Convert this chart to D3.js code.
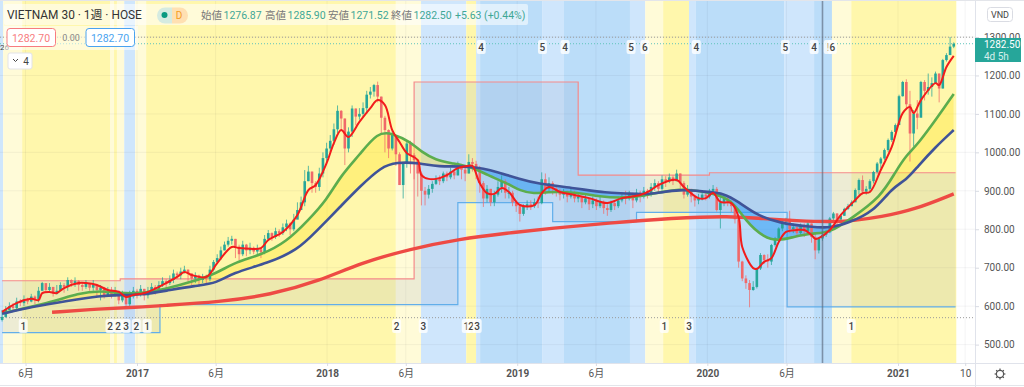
<!DOCTYPE html>
<html><head><meta charset="utf-8">
<script src="https://cdn.jsdelivr.net/npm/d3@7/dist/d3.min.js"></script>
<style>html,body{margin:0;padding:0;background:#fff;overflow:hidden}svg{display:block}text{font-family:Roboto,"Noto Sans CJK JP",sans-serif}</style>
</head><body><svg id="c" width="1024" height="387"></svg>
<script>
const closes=[572,590,600,595,612,608,618,612,625,618,
640,660,642,650,632,640,655,650,668,660,
665,655,650,660,648,655,642,648,625,640,
630,640,615,628,605,625,640,632,645,628,
640,650,645,655,665,660,668,685,680,690,
695,685,672,680,668,675,670,695,715,725,
745,760,770,775,755,735,760,745,752,742,
748,740,775,790,780,795,790,805,815,800,
825,850,870,925,950,920,910,945,985,1010,
1030,1060,1108,1088,1010,1054,1114,1093,1100,1115,
1150,1158,1175,1145,1090,1058,1010,1045,995,915,
971,1023,993,980,945,900,890,905,918,930,
925,945,935,950,940,965,955,945,975,970,
955,920,880,905,870,890,910,925,895,895,
870,860,840,860,865,860,870,868,930,905,
920,905,900,890,895,885,895,880,885,870,
880,865,875,860,870,855,850,868,860,875,
885,880,890,875,895,885,900,890,910,920,
905,930,925,935,925,945,920,890,905,885,
875,880,890,885,900,905,850,870,880,870,
860,826,716,672,660,642,650,698,733,720,
716,759,776,802,820,827,800,805,790,810,
795,815,780,745,776,786,792,828,841,825,
835,853,860,870,902,928,898,905,925,949,
971,984,1006,1032,1053,1071,1146,1183,1125,1049,
1101,1090,1183,1160,1170,1180,1205,1166,1240,1253,
1275,1282.5];
const highs=[590,600,610,608,622,618,628,622,632,628,
650,663,655,660,650,655,662,660,675,670,
675,668,662,668,660,668,658,655,650,650,
650,650,640,640,630,640,650,645,655,645,
650,660,655,665,675,670,680,695,690,700,
705,695,685,688,682,684,682,705,720,735,
755,768,780,783,775,760,770,762,765,755,
760,752,785,798,792,804,800,815,825,818,
840,870,885,954,965,950,925,960,1000,1025,
1045,1075,1122,1110,1088,1065,1122,1114,1115,1130,
1160,1170,1178,1184,1145,1095,1060,1055,1045,1000,
975,1030,1030,998,982,950,910,915,925,940,
940,950,950,960,955,976,970,960,995,985,
978,965,925,915,905,900,925,940,930,910,
900,875,865,865,875,875,880,885,948,945,
935,925,915,905,905,900,905,900,895,885,
890,880,885,880,885,875,865,875,875,885,
895,900,900,895,905,900,910,905,920,930,
925,940,938,945,940,955,945,925,915,905,
890,892,895,895,905,915,910,885,890,885,
875,860,826,718,680,668,665,700,738,735,
735,762,780,805,825,830,848,815,810,815,
815,820,815,790,780,792,798,832,845,842,
840,856,866,875,906,932,940,912,930,952,
975,988,1010,1036,1057,1075,1150,1186,1190,1160,
1110,1136,1186,1188,1205,1195,1210,1205,1243,1258,
1300,1286];
const lows=[560,570,590,585,590,600,600,605,610,605,
610,640,635,635,625,630,645,635,640,650,
650,640,640,645,640,640,625,615,620,625,
620,625,605,610,595,600,620,620,625,615,
620,635,630,640,650,645,655,660,670,670,
685,665,655,660,650,660,655,665,690,710,
720,745,755,760,725,720,730,730,735,735,
735,725,735,770,770,775,780,785,795,785,
795,830,850,860,925,895,895,900,935,975,
1000,1020,1050,1060,967,1000,1040,1070,1085,1090,
1100,1140,1145,1130,1050,1000,985,1005,965,915,
880,960,945,930,885,862,862,880,895,915,
915,920,925,930,930,940,930,925,945,950,
930,895,858,870,860,860,885,895,880,880,
860,845,820,835,850,850,855,855,865,890,
895,890,885,875,880,870,880,870,870,855,
865,850,855,850,855,840,835,845,850,855,
870,865,875,855,870,870,880,880,885,900,
895,900,910,920,915,925,905,880,885,870,
859,865,875,875,880,895,846,802,860,860,
845,815,700,665,645,597,640,646,694,710,
700,707,755,776,795,810,790,790,780,785,
780,790,765,722,737,770,780,790,820,810,
825,835,850,860,876,890,890,890,897,919,
945,958,980,1001,1027,1049,1071,1145,1110,976,
1015,1060,1127,1135,1150,1145,1184,1130,1166,1236,
1253,1271];
const fastWeeks=[0,4,8,10,11,13,15,17,21,23,26,29,32,34,36,39,43,45,48,50,52,56,59,63,65,68,71,73,77,81,84,86,89,91,93,95,98,101,103,105,107,109,111,114,115,117,119,122,125,128,129,131,133,135,137,139,142,146,148,150,153,157,161,166,170,175,178,180,185,187,191,193,195,197,200,202,203,206,207,209,211,213,215,218,220,222,223,224,227,230,234,236,238,241,244,247,249,250,252,256,257,259,261];
const fastValues=[585,608,619,616,634,637,634,647,660,660,655,642,637,624,629,634,650,660,676,689,681,676,712,754,751,749,751,772,793,837,902,915,972,1024,1058,1040,1079,1115,1136,1123,1058,1027,998,980,941,931,931,941,959,965,965,920,894,892,907,897,863,863,894,910,897,889,881,868,881,889,902,915,928,910,881,881,894,871,868,832,754,699,697,715,725,767,793,798,798,785,775,777,798,837,876,894,897,954,1014,1102,1118,1102,1136,1180,1175,1222,1251];
const midWeeks=[0,13,21,27,32,38,45,52,59,64,71,78,84,89,93,98,103,107,112,115,119,123,129,133,139,142,146,149,157,164,171,177,186,193,200,204,209,213,217,222,227,233,241,245,248,251,257,261];
const midValues=[582,608,634,640,634,632,645,663,686,715,733,767,824,876,941,993,1053,1050,1027,1001,980,972,962,941,918,900,892,897,897,884,881,889,907,897,881,820,778,770,780,790,790,829,884,949,993,1019,1097,1152];
const slowWeeks=[0,8,18,27,32,38,45,53,59,63,73,81,86,93,98,104,108,115,119,129,136,142,147,157,166,171,177,186,193,198,202,207,213,222,227,232,239,244,248,251,256,261];
const slowValues=[580,598,614,627,629,629,640,653,660,686,712,746,793,861,910,962,975,972,962,965,949,930,918,907,894,894,889,905,897,894,871,837,816,806,803,816,845,907,928,962,1014,1058];
const longWeeks=[13.7,26.9,37,43.3,59.8,73.5,87.2,98.2,112,125.6,138.5,151,166,184,199.7,208.7,218,227,233.4,241,250,261];
const longValues=[584,593,597,601,611,629,666,712,749,775,790,803,816,829,835,827,822,819,822,832,850,892];
const stepWeeks=[0,32.4,43.3,113,125,151,158,174,194,215.3,261.5];
const stepHigh=[666,671,671,1183,1183,1183,941,941,947,947,947];
const stepLow=[531,531,604,604,869,820,820,844,844,598,598];
const bandEdges=[-1,0.3,5.5,29.6,30.7,31.5,33.5,36.5,39.5,108,114.9,127.3,130,131.1,148.1,154.1,172.2,176.4,181.3,188.4,190.3,214.5,222.7,227.6,232.9,261.7];
const bandKinds=["light","pale","yellow","pale","yellow","pale","light","pale","yellow","pale","light","yellow","light","mid","light","mid","light","pale","yellow","light","mid","light","mid","pale","yellow"];
const topTagWeeks=[131.4,148.2,154.4,172.5,176.3,190.4,214.8,222.7,226.6,227.7];
const topTagTexts=["4","5","4","5","6","4","5","4","!","6"];
const botTagWeeks=[5.8,29.6,31.8,34,36.8,39.8,108.2,115.5,127.3,128.6,130.3,181.6,188.4,232.9];
const botTagTexts=["1","2","2","3","2","1","2","3","1","2","3","1","3","1"];
const priceTicks=[1300,1200,1100,1000,900,800,700,600,500];
const timeTicks=["2016-06-01","2017-01-01","2017-06-01","2018-01-01","2018-06-01","2019-01-01","2019-06-01","2020-01-01","2020-06-01","2021-01-01","2021-05-10"];
const timeLabels=["6月","2017","6月","2018","6月","2019","6月","2020","6月","2021","10"];
const ohlcNames=["始値","高値","安値","終値"];
const ohlcValues=["1276.87","1285.90","1271.52","1282.50"];
const lastPrice=1282.5, highLevel=1299.5, lowLevel=570;

const W=1024,H=387,plotR=975,plotB=363;
const bandColor={yellow:"#FFF7AC",pale:"#FFFBD8",light:"#CFE6FC",mid:"#BBDDF9"};
const UP="#26A69A",DOWN="#F0696A";
const svg=d3.select("#c");
const x=d3.scaleUtc().domain([new Date("2017-01-01"),new Date("2021-01-01")]).range([137,898]);
const y=d3.scaleLinear().domain([1300,500]).range([37,344.6]);
const start=new Date("2016-04-17");
const wx=w=>x(new Date(+start+w*7*864e5));

const defs=svg.append("defs");
defs.append("clipPath").attr("id","plot").append("rect").attr("width",plotR).attr("height",plotB);
const slow=slowWeeks.map((w,i)=>[w,slowValues[i]]), mid=midWeeks.map((w,i)=>[w,midValues[i]]);
const fast=fastWeeks.map((w,i)=>[w,fastValues[i]]), long=longWeeks.map((w,i)=>[w,longValues[i]]);
const curve=d3.curveBasis;
defs.append("clipPath").attr("id","aboveSlow").append("path").attr("d",d3.area().curve(curve).x(d=>wx(d[0])).y0(0).y1(d=>y(d[1]))(slow));
defs.append("clipPath").attr("id","belowSlow").append("path").attr("d",d3.area().curve(curve).x(d=>wx(d[0])).y0(plotB).y1(d=>y(d[1]))(slow));

const g=svg.append("g").attr("clip-path","url(#plot)");
// bands
g.selectAll(".band").data(bandKinds).join("rect").attr("x",(d,i)=>wx(bandEdges[i])).attr("width",(d,i)=>wx(bandEdges[i+1])-wx(bandEdges[i]))
 .attr("y",0).attr("height",plotB).attr("fill",d=>bandColor[d]);
// grid
g.selectAll(".gy").data(priceTicks).join("line").attr("x1",0).attr("x2",plotR).attr("y1",d=>y(d)).attr("y2",d=>y(d)).attr("stroke","rgba(42,46,57,.05)");
g.selectAll(".gx").data(timeTicks).join("line").attr("y1",0).attr("y2",plotB).attr("x1",d=>x(new Date(d))).attr("x2",d=>x(new Date(d))).attr("stroke","rgba(42,46,57,.05)");
// step range fill
const steps=stepWeeks.map((w,i)=>({w,h:stepHigh[i],l:stepLow[i]}));
g.append("path").attr("d",d3.area().curve(d3.curveStepAfter).x(d=>wx(d.w)).y0(d=>y(d.l)).y1(d=>y(d.h))(steps)).attr("fill","rgba(130,150,190,.14)");
g.append("path").attr("d",d3.line().curve(d3.curveStepAfter).x(d=>wx(d.w)).y(d=>y(d.h))(steps)).attr("fill","none").attr("stroke","#F58A8A").attr("stroke-width",1.2);
g.append("path").attr("d",d3.line().curve(d3.curveStepAfter).x(d=>wx(d.w)).y(d=>y(d.l))(steps)).attr("fill","none").attr("stroke","#62AEEA").attr("stroke-width",1.2);
// cloud
g.append("path").attr("clip-path","url(#aboveSlow)").attr("d",d3.area().curve(curve).x(d=>wx(d[0])).y0(plotB).y1(d=>y(d[1]))(mid)).attr("fill","rgba(255,232,60,.42)");
g.append("path").attr("clip-path","url(#belowSlow)").attr("d",d3.area().curve(curve).x(d=>wx(d[0])).y0(0).y1(d=>y(d[1]))(mid)).attr("fill","rgba(33,150,243,.5)");
// levels
[[highLevel,"#9a9a9a"],[lastPrice,"#5fc4bb"],[lowLevel,"#9a9a9a"]].forEach(([v,c])=>g.append("line").attr("x1",0).attr("x2",plotR).attr("y1",y(v)).attr("y2",y(v)).attr("stroke",c).attr("stroke-dasharray","1 2"));
// candles
const candles=closes.map((c,i)=>({i,c,o:i?closes[i-1]:c-8,h:highs[i],l:lows[i]}));
g.selectAll(".w").data(candles).join("line").attr("x1",d=>wx(d.i)).attr("x2",d=>wx(d.i)).attr("y1",d=>y(d.h)).attr("y2",d=>y(d.l)).attr("stroke",d=>d.c>=d.o?UP:DOWN).attr("stroke-opacity",.75);
g.selectAll(".b").data(candles).join("rect").attr("x",d=>wx(d.i)-1.3).attr("width",2.6).attr("y",d=>y(Math.max(d.o,d.c))).attr("height",d=>Math.max(1,Math.abs(y(d.o)-y(d.c)))).attr("fill",d=>d.c>=d.o?UP:DOWN);
// lines
const ln=c=>d3.line().curve(c).x(d=>wx(d[0])).y(d=>y(d[1]));
[[long,"#EE4A44",3.4,curve],[mid,"#5CAD4E",2.6,curve],[slow,"#3F5398",2.6,curve],[fast,"#F21C1C",2,d3.curveCatmullRom.alpha(.5)]].forEach(([s,c,w,k])=>g.append("path").attr("d",ln(k)(s)).attr("fill","none").attr("stroke",c).attr("stroke-width",w).attr("stroke-linejoin","round"));
// crosshair
g.append("line").attr("x1",822.5).attr("x2",822.5).attr("y1",0).attr("y2",plotB).attr("stroke","rgba(90,105,125,.65)").attr("stroke-width",1.6);
// tags
function tags(wk,tx,cy){
 const t=g.append("g");
 wk.forEach((w,i)=>{const cx=wx(w);
  t.append("rect").attr("x",cx-4.5).attr("y",cy-7).attr("width",9).attr("height",14).attr("rx",2).attr("fill","rgba(255,255,255,.78)");
  t.append("text").attr("x",cx).attr("y",cy+3.5).attr("text-anchor","middle").attr("font-size",10).attr("font-weight",500).attr("fill","#444").text(tx[i]);});
}
tags(topTagWeeks,topTagTexts,47); tags(botTagWeeks,botTagTexts,326);
g.append("text").attr("x",0).attr("y",50).attr("font-size",8).attr("fill","#444").text("26");

// axes
svg.append("rect").attr("x",plotR).attr("y",0).attr("width",W-plotR).attr("height",H).attr("fill","#fff");
svg.append("rect").attr("x",0).attr("y",plotB).attr("width",W).attr("height",H-plotB).attr("fill","#fff");
const ay=svg.append("g").attr("transform",`translate(${plotR},0)`).call(d3.axisRight(y).tickValues(priceTicks).tickSize(4).tickFormat(d3.format(".2f")));
ay.select(".domain").attr("stroke","#E0E3EB").attr("d",`M0.5,0V${H}`);
ay.selectAll("line").attr("stroke","#D8DBE3");
ay.selectAll("text").attr("x",9).attr("font-size",10).attr("fill","#555");
const timeMap=new Map(timeTicks.map((t,i)=>[+new Date(t),timeLabels[i]]));
const ax=svg.append("g").attr("transform",`translate(0,${plotB})`).call(d3.axisBottom(x).tickValues(timeTicks.map(t=>new Date(t))).tickSize(3).tickFormat(d=>timeMap.get(+d)));
ax.select(".domain").attr("stroke","#E0E3EB").attr("d",`M0,0.5H${W}`);
ax.selectAll("line").attr("stroke","#D8DBE3");
ax.selectAll("text").attr("y",7).attr("font-size",10).attr("fill","#555").attr("font-weight",d=>/^20/.test(timeMap.get(+d))?700:400);
svg.append("line").attr("x1",0).attr("x2",W).attr("y1",385.5).attr("y2",385.5).attr("stroke","#E3E5EA");
svg.append("line").attr("x1",0).attr("x2",W).attr("y1",0.5).attr("y2",0.5).attr("stroke","#E3E5EA");
// last price label
svg.append("rect").attr("x",plotR).attr("y",38).attr("width",46).attr("height",24).attr("fill",UP);
svg.append("text").attr("x",984).attr("y",48).attr("font-size",10).attr("fill","#fff").text("1282.50");
svg.append("text").attr("x",984).attr("y",60).attr("font-size",10).attr("fill","#d5efec").text("4d 5h");
svg.append("rect").attr("x",987.5).attr("y",7.5).attr("width",25).attr("height",14).attr("rx",3).attr("fill","#fff").attr("stroke","#DADCE3");
svg.append("text").attr("x",1000).attr("y",18).attr("text-anchor","middle").attr("font-size",9).attr("fill","#444").text("VND");
// gear
const gear=svg.append("g").attr("transform","translate(1000,374)").attr("fill","none").attr("stroke","#555");
gear.append("circle").attr("r",3.6).attr("stroke-width",1.2);
d3.range(8).forEach(k=>{const a=k*Math.PI/4;gear.append("line").attr("x1",3.6*Math.cos(a)).attr("y1",3.6*Math.sin(a)).attr("x2",5.4*Math.cos(a)).attr("y2",5.4*Math.sin(a)).attr("stroke-width",1.2);});
// header
svg.append("rect").attr("x",4).attr("y",4).attr("width",524).attr("height",21).attr("rx",2).attr("fill","rgba(255,255,255,.55)");
svg.append("rect").attr("x",4).attr("y",26).attr("width",134).attr("height",24).attr("fill","rgba(255,255,255,.55)");
svg.append("text").attr("x",7).attr("y",19).attr("font-size",11.9).attr("fill","#333").text("VIETNAM 30 · 1週 · HOSE");
svg.append("path").attr("d","M165,7.5h7v16h-7a8,8 0 0 1 0,-16z").attr("fill","#D5EBE1");
svg.append("path").attr("d","M172,7.5h8a8,8 0 0 1 0,16h-8z").attr("fill","#FFE0B2");
svg.append("circle").attr("cx",164.5).attr("cy",15).attr("r",3).attr("fill","#089981");
svg.append("text").attr("x",179).attr("y",19).attr("text-anchor","middle").attr("font-size",10).attr("fill","#F59B1F").text("D");
const ohlcX=[201,265,328,391];
ohlcNames.forEach((n,i)=>{
 svg.append("text").attr("x",ohlcX[i]).attr("y",19).attr("font-size",10.5).attr("fill","#777").text(n);
 svg.append("text").attr("x",ohlcX[i]+22.5).attr("y",19).attr("font-size",10.5).attr("fill","#3FA796").text(ohlcValues[i]);
});
svg.append("text").attr("x",455).attr("y",19).attr("font-size",10.5).attr("fill","#3FA796").text("+5.63 (+0.44%)");
[[7,"#F77C80"],[86,"#4AA3F0"]].forEach(([bx,c])=>{
 svg.append("rect").attr("x",bx).attr("y",28.5).attr("width",48.5).attr("height",18).attr("rx",3).attr("fill","#fff").attr("stroke",c);
 svg.append("text").attr("x",bx+24).attr("y",41.5).attr("text-anchor","middle").attr("font-size",10.5).attr("fill",c).text("1282.70");
});
svg.append("text").attr("x",71).attr("y",41).attr("text-anchor","middle").attr("font-size",9).attr("fill","#888").text("0.00");
svg.append("rect").attr("x",8).attr("y",53).attr("width",24).attr("height",16).attr("rx",2).attr("fill","#fff").attr("stroke","#E2E3E8");
svg.append("path").attr("d","M13,59l2.5,2.5l2.5,-2.5").attr("fill","none").attr("stroke","#444");
svg.append("text").attr("x",26).attr("y",64.5).attr("text-anchor","middle").attr("font-size",10).attr("fill","#444").text("4");
</script></body></html>
